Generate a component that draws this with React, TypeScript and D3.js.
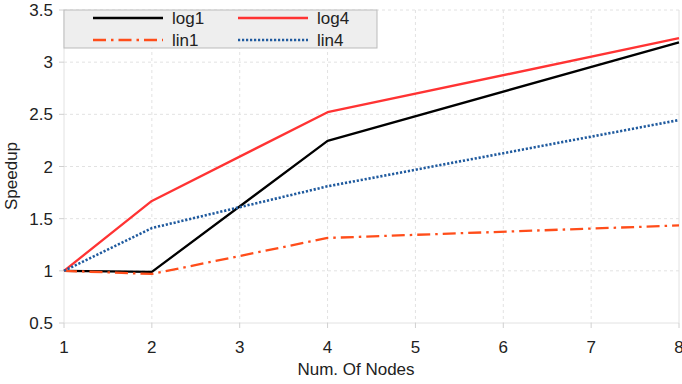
import React from "react";
import * as d3 from "d3";

const nodes = [1, 2, 4, 8];
const log1 = [1.0, 0.99, 2.245, 3.19];
const log4 = [1.0, 1.67, 2.52, 3.23];
const lin1 = [1.0, 0.97, 1.315, 1.435];
const lin4 = [1.0, 1.41, 1.81, 2.445];
const xTicks = [1, 2, 3, 4, 5, 6, 7, 8];
const yTicks = [0.5, 1, 1.5, 2, 2.5, 3, 3.5];

const series = [
  { name: "log1", values: log1, color: "#000000", dash: "", width: 2.3 },
  { name: "log4", values: log4, color: "#ff3333", dash: "", width: 2.3 },
  { name: "lin1", values: lin1, color: "#ff4d1a", dash: "13,5,2.5,5", width: 2.3 },
  { name: "lin4", values: lin4, color: "#1f5a9e", dash: "2.2,1.8", width: 2.6 },
];

export default function App() {
  const W = 682, H = 384;
  const x = d3.scaleLinear().domain([1, 8]).range([64, 679]);
  const y = d3.scaleLinear().domain([0.5, 3.5]).range([323, 10]);
  const line = d3.line<number>().x((_, i) => x(nodes[i])).y((d) => y(d));
  const font = "Liberation Sans, Arial, sans-serif";
  const legend = [
    { s: series[0], lx: 93, ly: 18 },
    { s: series[1], lx: 238, ly: 18 },
    { s: series[2], lx: 93, ly: 40 },
    { s: series[3], lx: 238, ly: 40 },
  ];
  return (
    <svg width={W} height={H} style={{ position: "absolute", left: 0, top: 0 }} fontFamily={font}>
      <rect width={W} height={H} fill="#fff" />
      {xTicks.map((t) => (
        <line key={"gx" + t} x1={x(t)} x2={x(t)} y1={y(3.5)} y2={y(0.5)} stroke="#e2e2e2" strokeDasharray={t === 1 || t === 8 ? "" : "3,3"} strokeWidth={1} />
      ))}
      {yTicks.map((t) => (
        <line key={"gy" + t} x1={x(1)} x2={x(8)} y1={y(t)} y2={y(t)} stroke="#e2e2e2" strokeDasharray={t === 0.5 ? "" : "3,3"} strokeWidth={1} />
      ))}
      {xTicks.map((t) => (
        <g key={"xt" + t}>
          <line x1={x(t)} x2={x(t)} y1={y(0.5)} y2={y(0.5) + 5} stroke="#d0d0d0" />
          <text x={x(t)} y={353} textAnchor="middle" fontSize={17} fill="#222">{t}</text>
        </g>
      ))}
      {yTicks.map((t) => (
        <g key={"yt" + t}>
          <line x1={x(1) - 5} x2={x(1)} y1={y(t)} y2={y(t)} stroke="#d0d0d0" />
          <text x={53} y={y(t) + 6} textAnchor="end" fontSize={17} fill="#222">{t}</text>
        </g>
      ))}
      {series.map((s) => (
        <path key={s.name} d={line(s.values) || ""} fill="none" stroke={s.color} strokeWidth={s.width} strokeDasharray={s.dash} strokeLinejoin="round" />
      ))}
      <rect x={64} y={10} width={313} height={38} fill="#eeeeee" stroke="#bbbbbb" strokeWidth={1} />
      {legend.map(({ s, lx, ly }) => (
        <g key={"lg" + s.name}>
          <line x1={lx} x2={lx + 70} y1={ly} y2={ly} stroke={s.color} strokeWidth={s.width} strokeDasharray={s.dash} />
          <text x={lx + 79} y={ly + 6} fontSize={17} fill="#222">{s.name}</text>
        </g>
      ))}
      <text x={356} y={375} textAnchor="middle" fontSize={17} fill="#222">Num. Of Nodes</text>
      <text transform={`translate(17,176) rotate(-90)`} textAnchor="middle" fontSize={17} fill="#222">Speedup</text>
    </svg>
  );
}
